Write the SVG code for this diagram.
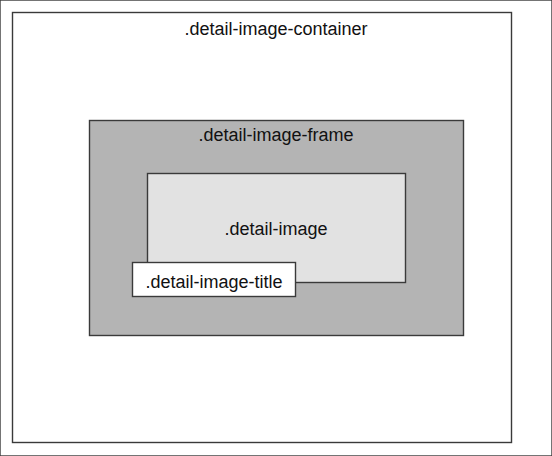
<svg xmlns="http://www.w3.org/2000/svg" width="552" height="456" viewBox="0 0 552 456">
<style>
rect{stroke:#3a3a3a;stroke-width:1.4}
text{font-family:"Liberation Sans",Arial,sans-serif;font-size:18px;fill:#111;text-anchor:middle}
</style>
<rect width="552" height="456" fill="#fff" stroke="none"/>
<g id="container"><rect x="12.5" y="12.5" width="499" height="430" fill="#fff"/><text x="276" y="35">.detail-image-container</text></g>
<g id="frame"><rect x="89.5" y="120.5" width="374" height="215" fill="#b4b4b4"/><text x="276" y="141">.detail-image-frame</text></g>
<g id="image"><rect x="147.5" y="173.5" width="258" height="109" fill="#e2e2e2"/><text x="276" y="235">.detail-image</text></g>
<g id="title"><rect x="132.5" y="262.5" width="163" height="34" fill="#fff"/><text x="214" y="288">.detail-image-title</text></g>
</svg>
